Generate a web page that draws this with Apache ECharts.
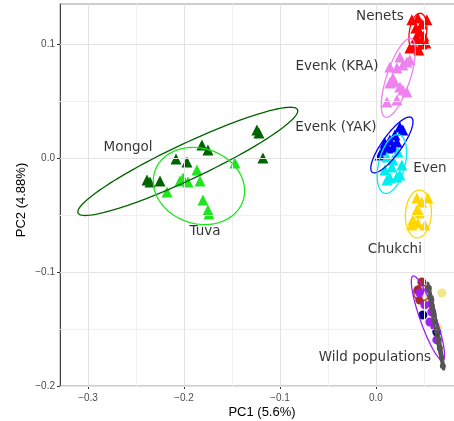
<!DOCTYPE html>
<html>
<head>
<meta charset="utf-8">
<script src="https://cdn.jsdelivr.net/npm/echarts@6/dist/echarts.min.js"></script>
<style>html,body{margin:0;padding:0;background:#fff}#c{width:454px;height:421px}</style>
</head>
<body>
<div id="c"></div>
<script>
// ---- tick values ----
const xTicks = [-0.3, -0.2, -0.1, 0.0];
const xMinorTicks = [-0.25, -0.15, -0.05, 0.05];
const yTicks = [-0.2, -0.1, 0.0, 0.1];
const yMinorTicks = [-0.15, -0.05, 0.05];

// ---- groups ----
const groupNames = ["Mongol", "Tuva", "Nenets", "Evenk (KRA)", "Evenk (YAK)", "Even", "Chukchi"];
const groupColors = ["#006400", "#1EE61E", "#FF0000", "#EE82EE", "#0000FF", "#00EEEE", "#FFD700"];

const mongolX = [-0.2385, -0.2354, -0.2250, -0.2083, -0.1969, -0.1813, -0.1750, -0.1240, -0.1219, -0.1177];
const mongolY = [-0.0193, -0.0211, -0.0202, -0.0009, -0.0035, 0.0114, 0.0070, 0.0246, 0.0219, 0.0000];

const tuvaX = [-0.1865, -0.2042, -0.1958, -0.1833, -0.2177, -0.1469, -0.1802, -0.1750, -0.1740, -0.2010];
const tuvaY = [-0.0105, -0.0202, -0.0211, -0.0202, -0.0298, -0.0044, -0.0368, -0.0456, -0.0491, -0.0175];

const nenetsX = [0.0375, 0.0438, 0.0531, 0.0479, 0.0417, 0.0458, 0.0500, 0.0438, 0.0479, 0.0354, 0.0396, 0.0521, 0.0448, 0.0417];
const nenetsY = [0.1211, 0.1228, 0.1211, 0.1175, 0.1140, 0.1105, 0.1070, 0.1035, 0.1000, 0.0965, 0.0982, 0.1009, 0.0947, 0.1053];

const evenkKraX = [0.0250, 0.0323, 0.0354, 0.0146, 0.0219, 0.0281, 0.0146, 0.0198, 0.0250, 0.0281, 0.0323, 0.0115, 0.0219, 0.0177];
const evenkKraY = [0.0886, 0.0842, 0.0860, 0.0798, 0.0789, 0.0816, 0.0658, 0.0667, 0.0623, 0.0596, 0.0579, 0.0491, 0.0509, 0.0702];

const evenkYakX = [0.0250, 0.0281, 0.0198, 0.0146, 0.0094, 0.0073, 0.0125, 0.0177, 0.0042, 0.0219];
const evenkYakY = [0.0272, 0.0246, 0.0202, 0.0158, 0.0132, 0.0070, 0.0088, 0.0096, 0.0026, 0.0140];

const evenX = [0.0115, 0.0177, 0.0229, 0.0271, 0.0167, 0.0094, 0.0219, 0.0146, 0.0250, 0.0115];
const evenY = [0.0009, -0.0018, 0.0053, -0.0061, -0.0079, -0.0105, -0.0167, -0.0175, -0.0149, -0.0193];

const chukchiX = [0.0427, 0.0542, 0.0479, 0.0427, 0.0458, 0.0385, 0.0438, 0.0510, 0.0375];
const chukchiY = [-0.0351, -0.0351, -0.0386, -0.0456, -0.0482, -0.0544, -0.0570, -0.0588, -0.0588];

// ---- wild populations (circles) ----
const wildNames = ["Wild A", "Wild B", "Wild C", "Wild D", "Wild E"];
const wildColors = ["#A52A2A", "#A020F0", "#F0E68C", "#000080", "#555555"];
const wildAX = [0.0479, 0.0438, 0.0521, 0.0458];
const wildAY = [-0.1088, -0.1158, -0.1175, -0.1246];
const wildBX = [0.0458, 0.0531, 0.0563, 0.0583, 0.0563, 0.0615, 0.0635, 0.0510];
const wildBY = [-0.1184, -0.1158, -0.1246, -0.1351, -0.1439, -0.1482, -0.1596, -0.1289];
const wildCX = [0.0688, 0.0531, 0.0646];
const wildCY = [-0.1184, -0.1219, -0.1491];
const wildDX = [0.0490, 0.0635];
const wildDY = [-0.1377, -0.1526];
const wildEX = [0.0552, 0.0573, 0.0583, 0.0604, 0.0615, 0.0635, 0.0656, 0.0667, 0.0688, 0.0698];
const wildEY = [-0.1140, -0.1228, -0.1298, -0.1377, -0.1439, -0.1509, -0.1596, -0.1667, -0.1754, -0.1825];

// ---- 95% ellipses: centre, semi-axes, angle (deg, data space) ----
const ellipseColors = ["#006400", "#1EE61E", "#FF0000", "#EE82EE", "#0000FF", "#00EEEE", "#FFD700", "#A52A2A", "#A020F0", "#555555"];
const ellipseCx = [-0.196, -0.1844, 0.0438, 0.0234, 0.0167, 0.0167, 0.0443, 0.0479, 0.0542, 0.0625];
const ellipseCy = [-0.003, -0.0246, 0.1096, 0.0702, 0.0114, -0.0053, -0.0491, -0.1184, -0.1404, -0.1478];
const ellipseA = [0.123, 0.048, 0.0175, 0.0370, 0.0315, 0.0268, 0.021, 0.0083, 0.040, 0.039];
const ellipseB = [0.016, 0.0333, 0.009, 0.012, 0.0095, 0.0135, 0.0135, 0.0068, 0.008, 0.0015];
const ellipseAngle = [21.5, -10, 80, 68, 48.7, 71.9, 85, 0, -67, -77.7];

// ---- text labels ----
const labelTexts = ["Nenets", "Evenk (KRA)", "Evenk (YAK)", "Even", "Chukchi", "Wild populations", "Mongol", "Tuva"];
const labelX = [0.0042, -0.0406, -0.0417, 0.0563, 0.0198, -0.0010, -0.2583, -0.1781];
const labelY = [0.1237, 0.0798, 0.0263, -0.0096, -0.0807, -0.1746, 0.0088, -0.0649];

const zip = (xs, ys) => xs.map((x, i) => [x, ys[i]]);
const groupData = [zip(mongolX, mongolY), zip(tuvaX, tuvaY), zip(nenetsX, nenetsY), zip(evenkKraX, evenkKraY),
  zip(evenkYakX, evenkYakY), zip(evenX, evenY), zip(chukchiX, chukchiY)];
const wildData = [zip(wildAX, wildAY), zip(wildBX, wildBY), zip(wildCX, wildCY), zip(wildDX, wildDY), zip(wildEX, wildEY)];

const fmt = v => v.toFixed(1).replace('-', '\u2212');

const series = [];
// grid lines
series.push({
  type: 'scatter', data: [], silent: true, z: 0,
  markLine: {
    silent: true, symbol: 'none', label: { show: false }, animation: false,
    data: [
      ...xMinorTicks.map(v => ({ xAxis: v, lineStyle: { color: '#F0F0F0', width: 1, type: 'solid' } })),
      ...yMinorTicks.map(v => ({ yAxis: v, lineStyle: { color: '#F0F0F0', width: 1, type: 'solid' } })),
      ...xTicks.map(v => ({ xAxis: v, lineStyle: { color: '#E3E3E3', width: 1, type: 'solid' } })),
      ...yTicks.map(v => ({ yAxis: v, lineStyle: { color: '#E3E3E3', width: 1, type: 'solid' } }))
    ]
  }
});
// wild circles
wildData.forEach((d, i) => {
  series.push({
    type: 'scatter', name: wildNames[i], data: d, symbol: 'circle',
    symbolSize: i === 4 ? 6 : 9, z: 3,
    itemStyle: { color: wildColors[i], opacity: 1 }
  });
});
// group triangles
groupData.forEach((d, i) => {
  series.push({
    type: 'scatter', name: groupNames[i], data: d, symbol: 'triangle',
    symbolSize: 11, z: 4,
    itemStyle: { color: groupColors[i], opacity: 1 }
  });
});
// ellipses
series.push({
  type: 'custom', z: 5, clip: true, silent: true,
  data: ellipseCx.map((c, i) => [c, ellipseCy[i], ellipseA[i], ellipseB[i], ellipseAngle[i], i]),
  encode: { x: 0, y: 1 },
  renderItem: function (params, api) {
    const cx = api.value(0), cy = api.value(1), a = api.value(2), b = api.value(3);
    const th = api.value(4) * Math.PI / 180, idx = api.value(5);
    const pts = [];
    for (let k = 0; k <= 120; k++) {
      const t = 2 * Math.PI * k / 120;
      const x = cx + a * Math.cos(th) * Math.cos(t) - b * Math.sin(th) * Math.sin(t);
      const y = cy + a * Math.sin(th) * Math.cos(t) + b * Math.cos(th) * Math.sin(t);
      pts.push(api.coord([x, y]));
    }
    return {
      type: 'polyline', shape: { points: pts },
      style: { stroke: ellipseColors[idx], fill: null, lineWidth: idx === 9 ? 2.5 : 1.3 }
    };
  }
});
// text labels
series.push({
  type: 'scatter', z: 6, silent: true, symbolSize: 0,
  data: labelTexts.map((t, i) => ({ name: t, value: [labelX[i], labelY[i]] })),
  label: {
    show: true, position: 'inside', formatter: p => p.name,
    fontFamily: 'DejaVu Sans', fontSize: 13.5, color: '#000'
  }
});

const chart = echarts.init(document.getElementById('c'), null, { renderer: 'canvas' });
chart.setOption({
  animation: false,
  backgroundColor: '#fff',
  grid: { left: 60, right: -2, top: 4, bottom: 35, show: true, borderColor: '#9A9A9A', borderWidth: 1, backgroundColor: '#fff', containLabel: false, outerBoundsMode: 'none' },
  xAxis: {
    type: 'value', min: -0.3292, max: 0.0835,
    name: 'PC1 (5.6%)', nameLocation: 'middle', nameGap: 20, nameMoveOverlap: false,
    nameTextStyle: { fontFamily: 'Liberation Sans', fontSize: 13, color: '#000', padding: [0, 0, 0, 8] },
    axisLine: { show: true, onZero: false, lineStyle: { color: '#9A9A9A', width: 1 } },
    axisTick: { show: true, length: 3, customValues: xTicks, lineStyle: { color: '#333' } },
    axisLabel: { customValues: xTicks, formatter: fmt, fontFamily: 'Liberation Sans', fontSize: 10, color: '#4D4D4D', margin: 7 },
    splitLine: { show: false }
  },
  yAxis: {
    type: 'value', min: -0.2, max: 0.135,
    name: 'PC2 (4.88%)', nameLocation: 'middle', nameGap: 32, nameRotate: 90, nameMoveOverlap: false,
    nameTextStyle: { fontFamily: 'Liberation Sans', fontSize: 13, color: '#000', padding: [0, 10, 0, 0] },
    axisLine: { show: true, onZero: false, lineStyle: { color: '#444', width: 1 } },
    axisTick: { show: true, length: 3, customValues: yTicks, lineStyle: { color: '#333' } },
    axisLabel: { customValues: yTicks, formatter: fmt, fontFamily: 'Liberation Sans', fontSize: 10, color: '#4D4D4D', margin: 5 },
    splitLine: { show: false }
  },
  series: series
});
</script>
</body>
</html>
